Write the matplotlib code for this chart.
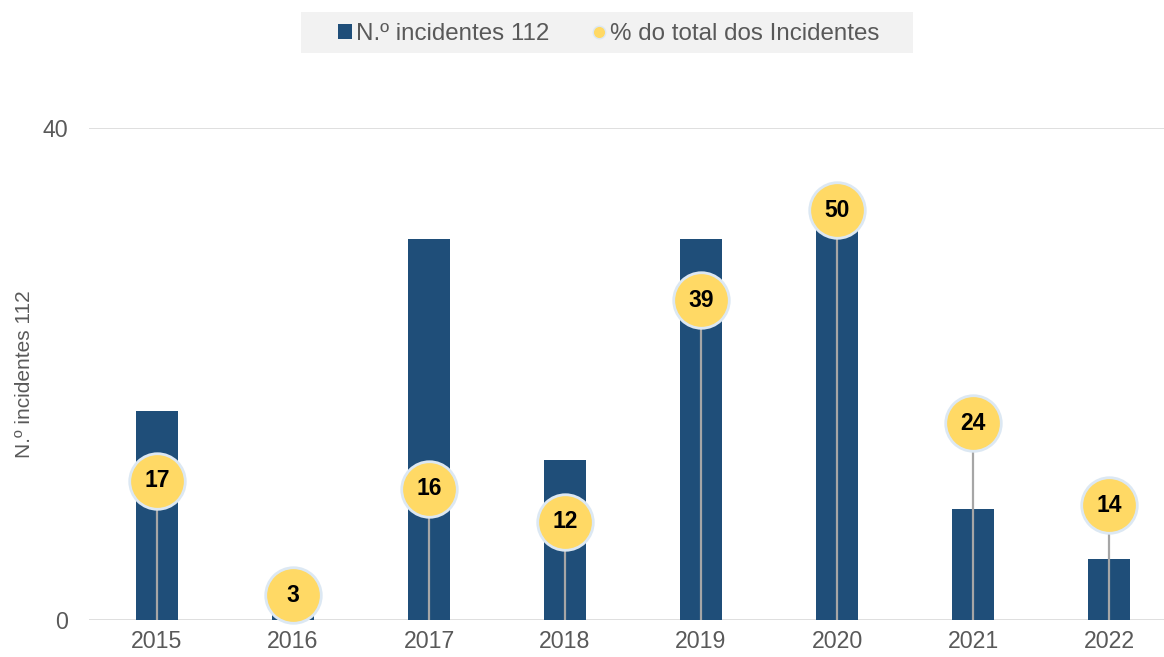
import matplotlib.pyplot as plt
from matplotlib.lines import Line2D
from matplotlib.patches import Patch, Rectangle

plt.rcParams['font.family'] = ['Liberation Sans', 'DejaVu Sans']

# data
years = ['2015', '2016', '2017', '2018', '2019', '2020', '2021', '2022']
incidentes = [17, 1, 31, 13, 31, 33, 9, 5]
pct_total = [17, 3, 16, 12, 39, 50, 24, 14]

bar_color = '#1f4e79'
dot_color = '#ffd965'
dot_edge = '#dce8f3'
text_gray = '#595959'

fig = plt.figure(figsize=(11.64, 6.57), dpi=100)
ax = fig.add_axes([89 / 1164, 37 / 657, 1075 / 1164, 492 / 657])
x = list(range(len(years)))

ax.bar(x, incidentes, width=0.31, color=bar_color, zorder=2)
ax.set_ylim(0, 40)
ax.set_xlim(-0.5, -0.5 + 1075 / 136)
ax.set_yticks([0, 40])
ax.set_xticks(x)
ax.set_xticklabels(years)
ax.tick_params(axis='both', length=0, labelsize=16.7, colors=text_gray)
ax.tick_params(axis='y', pad=15)
ax.tick_params(axis='x', pad=7)
ax.grid(axis='y', color='#d9d9d9', linewidth=1.2, zorder=0)
for s in ax.spines.values():
    s.set_visible(False)
ax.set_ylabel('N.º incidentes 112', fontsize=15, color=text_gray)
ax.yaxis.set_label_coords(-0.051, 0.5)

# secondary scale for the percentage bubbles
ax2 = ax.twinx()
ax2.set_ylim(0, 60)
ax2.set_axis_off()
ax2.vlines(x, 0, pct_total, color='#a6a6a6', linewidth=1.6, zorder=3)
ax2.scatter(x, pct_total, s=1600, color=dot_color, edgecolors=dot_edge,
            linewidths=2, zorder=4, clip_on=False)
for xi, p in zip(x, pct_total):
    ax2.text(xi, p, str(p), ha='center', va='center', fontsize=16.5,
             fontweight='bold', color='black', zorder=5)

# legend box
fig.patches.append(Rectangle((301 / 1164, 1 - 53 / 657), 612 / 1164, 41 / 657,
                             transform=fig.transFigure, facecolor='#f2f2f2',
                             edgecolor='none', zorder=0))
handles = [
    Patch(facecolor=bar_color, edgecolor='none'),
    Line2D([], [], marker='o', linestyle='none', markersize=9,
           markerfacecolor=dot_color, markeredgecolor=dot_edge),
]
leg = fig.legend(handles, ['N.º incidentes 112', '% do total dos Incidentes'],
                 loc='center', bbox_to_anchor=(609 / 1164, 1 - 34 / 657),
                 ncol=2, frameon=False, fontsize=17.4, handlelength=0.55,
                 handleheight=0.55, handletextpad=0.2, columnspacing=1.75)
for t in leg.get_texts():
    t.set_color(text_gray)

fig.savefig('out.png', dpi=100)
